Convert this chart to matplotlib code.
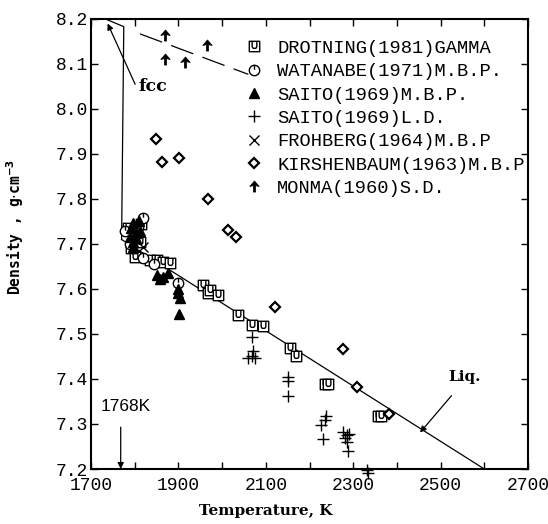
import matplotlib
matplotlib.use('Agg')
import matplotlib.pyplot as plt
from matplotlib.path import Path
from matplotlib.ticker import MultipleLocator, FormatStrFormatter

plt.rcParams['lines.scale_dashes'] = False

# ---------------- data ----------------
drot_T = [1785, 1812, 1800, 1835, 1850, 1865, 1881, 1957, 1968, 1972, 1991, 2037,
          2068, 2093, 2155, 2169, 2235, 2243, 2356, 2363, 1815, 1792]
drot_D = [7.735, 7.705, 7.672, 7.664, 7.664, 7.661, 7.657, 7.609, 7.590, 7.598, 7.587, 7.542,
          7.520, 7.518, 7.468, 7.451, 7.390, 7.389, 7.318, 7.318, 7.745, 7.690]

wat_T = [1820, 1778, 1808, 1820, 1845, 1900, 1790]
wat_D = [7.758, 7.729, 7.738, 7.668, 7.655, 7.613, 7.700]

saito_mbp_T = [1797, 1789, 1804, 1797, 1802, 1795, 1850, 1858, 1865, 1877, 1898, 1900, 1904, 1902,
               1810, 1812, 1792]
saito_mbp_D = [7.746, 7.716, 7.713, 7.694, 7.725, 7.705, 7.631, 7.622, 7.627, 7.635, 7.600, 7.590,
               7.579, 7.545, 7.750, 7.728, 7.735]

saito_ld_T = [2068, 2068, 2060, 2076, 2070, 2151, 2151, 2151, 2235, 2226, 2238, 2230,
              2277, 2285, 2281, 2285, 2287, 2290, 2331, 2335]
saito_ld_D = [7.494, 7.452, 7.446, 7.446, 7.462, 7.405, 7.395, 7.362, 7.309, 7.298, 7.318, 7.266,
              7.283, 7.276, 7.270, 7.261, 7.241, 7.278, 7.198, 7.190]

froh_T = [1820]
froh_D = [7.694]

kir_T = [1848, 1863, 1901, 1967, 2014, 2032, 2121, 2277, 2308, 2383]
kir_D = [7.933, 7.883, 7.892, 7.800, 7.731, 7.716, 7.561, 7.466, 7.382, 7.322]

monma_T = [1870, 1965, 1870, 1916]
monma_D = [8.165, 8.142, 8.110, 8.105]

labels = ["DROTNING(1981)GAMMA", "WATANABE(1971)M.B.P.", "SAITO(1969)M.B.P.",
          "SAITO(1969)L.D.", "FROHBERG(1964)M.B.P", "KIRSHENBAUM(1963)M.B.P",
          "MONMA(1960)S.D."]

liq_T = [1770, 2600]
liq_D = [7.71, 7.20]
fcc_T = [1738, 1775, 1770]
fcc_D = [8.198, 8.183, 7.71]
monma_fit_T = [1812, 2060]
monma_fit_D = [8.167, 8.077]

x_major = [1700, 1900, 2100, 2300, 2500, 2700]

# ---------------- markers ----------------
M, L, C = Path.MOVETO, Path.LINETO, Path.CLOSEPOLY
sq_u = Path([(-1, -1), (1, -1), (1, 1), (-1, 1), (-1, -1),
             (-0.45, 1), (-0.45, -0.05), (-0.25, -0.35), (0.25, -0.35), (0.45, -0.05), (0.45, 1)],
            [M, L, L, L, C, M, L, L, L, L, L])
circ_line = Path.make_compound_path(Path.unit_circle(),
                                    Path([(0, 1), (0, 0.15)], [M, L]))
arrow_mark = Path([(0, 1), (0.85, 0.0), (0.2, 0.15), (0.2, -1), (-0.2, -1), (-0.2, 0.15),
                   (-0.85, 0.0), (0, 1)], [M, L, L, L, L, L, L, C])

# ---------------- figure ----------------
fig = plt.figure(figsize=(5.48, 5.24), dpi=100)
ax = fig.add_axes([91 / 548, 1 - 469 / 524, 437 / 548, 450 / 524])

lw = 0.9
ax.plot(liq_T, liq_D, color='k', lw=lw)
ax.plot(fcc_T, fcc_D, color='k', lw=lw)
ax.plot(monma_fit_T, monma_fit_D, color='k', lw=lw, dashes=(17, 7))

h1, = ax.plot(drot_T, drot_D, ls='none', marker=sq_u, ms=7.5, mfc='white', mec='k', mew=1.0)
h2, = ax.plot(wat_T, wat_D, ls='none', marker=circ_line, ms=7.5, mfc='white', mec='k', mew=1.0)
h3, = ax.plot(saito_mbp_T, saito_mbp_D, ls='none', marker='^', ms=6.5, mfc='k', mec='k')
h4, = ax.plot(saito_ld_T, saito_ld_D, ls='none', marker='+', ms=8, mec='k', mew=1.0,
              clip_on=False)
h5, = ax.plot(froh_T, froh_D, ls='none', marker='x', ms=6.5, mec='k', mew=1.0)
h6, = ax.plot(kir_T, kir_D, ls='none', marker='D', ms=5, mfc='white', mec='k', mew=1.6)
h7, = ax.plot(monma_T, monma_D, ls='none', marker=arrow_mark, ms=8, mfc='k', mec='k', mew=0.5)

ax.set_xlim(1700, 2700)
ax.set_ylim(7.2, 8.2)

ax.set_xticks(x_major)
ax.xaxis.set_minor_locator(MultipleLocator(100))
ax.yaxis.set_major_locator(MultipleLocator(0.1))
ax.yaxis.set_major_formatter(FormatStrFormatter('%.1f'))

tick_font = 'Liberation Mono'
ax.tick_params(which='both', direction='in', top=True, right=True, length=5, width=1.0)
ax.tick_params(axis='x', which='both', pad=6, labelsize=13)
ax.tick_params(axis='y', which='both', pad=2, labelsize=13)
for t in ax.get_xticklabels() + ax.get_yticklabels():
    t.set_fontfamily(tick_font)
for s in ax.spines.values():
    s.set_linewidth(1.5)

ax.set_xlabel("Temperature, K", fontfamily='DejaVu Serif', fontweight='bold', fontsize=11)
ax.xaxis.label.set_va('center')
ax.xaxis.set_label_coords(0.40, -0.093)
ax.set_ylabel(r"Density , g$\cdot$cm$^{\mathbf{-3}}$", fontfamily='DejaVu Sans Mono',
              fontweight='bold', fontsize=10.5)
ax.yaxis.label.set_va('center')
ax.yaxis.set_label_coords(-0.174, 0.538)

leg = ax.legend([h1, h2, h3, h4, h5, h6, h7], labels, loc='upper left',
                bbox_to_anchor=(0.3515, 0.9535), frameon=False, borderpad=0,
                borderaxespad=0, handlelength=1.0, handletextpad=0.73,
                labelspacing=0.33, numpoints=1,
                prop={'family': tick_font, 'size': 13.5})

# annotations
ax.text(1842, 8.049, "fcc", fontfamily='DejaVu Serif', fontweight='bold', fontsize=12.5,
        ha='center', va='center')
ax.annotate('', xy=(1738, 8.19), xytext=(1801, 8.055),
            arrowprops=dict(arrowstyle='-|>', lw=0.9, color='k', mutation_scale=9,
                            shrinkA=0, shrinkB=0))
ax.text(2555, 7.405, "Liq.", fontfamily='DejaVu Serif', fontweight='bold', fontsize=11,
        ha='center', va='center')
ax.annotate('', xy=(2453, 7.281), xytext=(2525, 7.363),
            arrowprops=dict(arrowstyle='-|>', lw=0.9, color='k', mutation_scale=9,
                            shrinkA=0, shrinkB=0))
ax.text(1780, 7.338, "1768K", fontfamily='Liberation Sans', fontsize=12.5,
        ha='center', va='center')
ax.annotate('', xy=(1768, 7.2), xytext=(1768, 7.293),
            arrowprops=dict(arrowstyle='-|>', lw=0.9, color='k', mutation_scale=9,
                            shrinkA=0, shrinkB=0))

fig.savefig('out.png', dpi=100)
